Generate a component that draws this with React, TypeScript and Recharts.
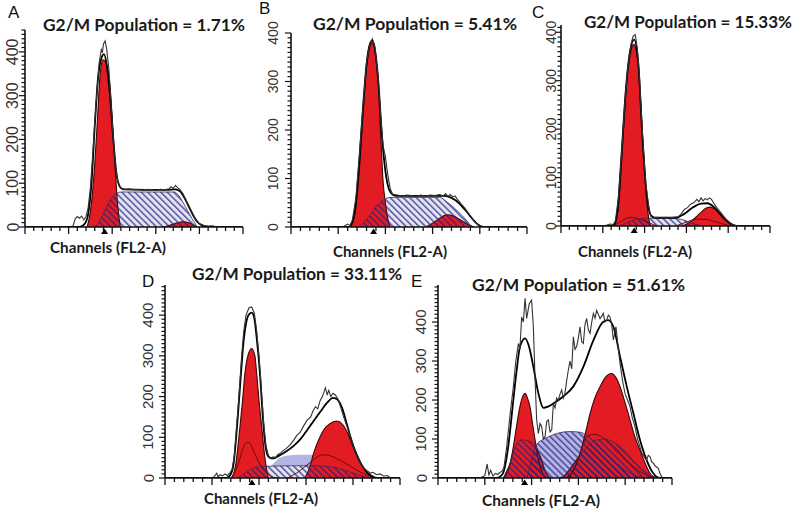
import React from 'react';
import { ComposedChart, Area, Line, XAxis, YAxis, ReferenceDot } from 'recharts';

type Pt = [number, number];

// text
const titles = [
  'G2/M Population = 1.71%',
  'G2/M Population = 5.41%',
  'G2/M Population = 15.33%',
  'G2/M Population = 33.11%',
  'G2/M Population = 51.61%',
];
const letters = ['A', 'B', 'C', 'D', 'E'];
const xLabel = 'Channels (FL2-A)';
const yLabels = [0, 100, 200, 300, 400];
// G1 peak marker (triangle under the axis), in channels
const g1Marker = [73, 70, 70, 74, 74];

// ---- A ----
const rawA: Pt[] = [[0,0],[40,0],[44,2],[46,18],[48,24],[50,20],[52,25],[54,16],[56,24],[58,45],[60,90],[62,160],[64,240],[66,310],[68,375],[70,405],[71,398],[72,418],[73.5,425],[75,405],[77,360],[79,280],[81,200],[83,140],[85,105],[87,92],[89,88],[92,86],[96,87],[100,85],[104,86],[108,84],[112,86],[116,85],[120,84],[124,86],[128,85],[132,87],[134,92],[136,88],[138,95],[140,90],[142,86],[145,76],[148,60],[152,40],[156,20],[160,8],[164,4],[168,2],[172,3],[176,0],[200,0]];
const modelA: Pt[] = [[0,0],[50,0],[55,8],[58,30],[61,100],[64,230],[67,340],[70,385],[72.5,395],[75,370],[78,300],[81,200],[84,120],[87,92],[90,86],[110,85],[130,85],[138,86],[142,82],[146,68],[150,48],[154,28],[158,12],[162,4],[166,0],[200,0]];
const g1A: Pt[] = [[57,0],[60,35],[63,110],[66,225],[69,350],[71.5,382],[74,378],[76,358],[78,322],[80,250],[82.6,140],[85,50],[87.5,0]];
const sA: Pt[] = [[64,0],[68,12],[72,32],[76,52],[80,68],[84,77],[88,80],[100,80],[120,80],[137,80],[141,72],[145,56],[149,38],[153,20],[157,4],[158,0]];
const g2A: Pt[] = [[127,0],[133,4],[139,9],[145,12],[151,9],[155,4],[158,0]];

// ---- B ----
const rawB: Pt[] = [[0,0],[44,0],[46,3],[48,6],[50,3],[52,14],[55,60],[58,150],[61,250],[64,340],[67,380],[69,388],[71,372],[74,305],[76,230],[78,168],[80,145],[82,108],[84,80],[86,68],[90,66],[94,64],[98,66],[102,65],[106,63],[110,66],[114,64],[118,66],[122,65],[126,67],[129,64],[131,69],[133,63],[135,67],[137,62],[139,64],[141,57],[144,48],[147,40],[150,30],[153,20],[156,10],[158,6],[160,3],[164,0],[200,0]];
const modelB: Pt[] = [[0,0],[49,0],[52,10],[55,50],[58,140],[61,245],[64,335],[67,378],[69,384],[71,368],[74,300],[77,190],[80,115],[83,78],[86,67],[90,64],[130,64],[136,60],[142,50],[148,34],[154,16],[158,6],[162,0],[200,0]];
const g1B: Pt[] = [[50,0],[54,25],[58,120],[61,230],[64,330],[67,372],[69,380],[71,365],[74,296],[76,190],[78,95],[80,50],[82,18],[84,0]];
const sB: Pt[] = [[58,0],[63,12],[68,28],[72,42],[76,52],[80,58],[84,61],[100,61],[126,61],[132,52],[138,40],[144,26],[150,10],[153,0]];
const g2B: Pt[] = [[114,0],[120,8],[126,18],[132,25],[138,22],[144,14],[150,5],[155,0]];

// ---- C ----
const rawC: Pt[] = [[0,0],[40,0],[44,2],[47,4],[50,3],[52,10],[55,60],[58,150],[61,255],[64,330],[67,375],[69,392],[71,395],[73,368],[75,310],[78,190],[81,90],[84,40],[86,20],[88,17],[92,18],[96,16],[100,18],[104,17],[108,18],[112,19],[115,25],[118,34],[121,38],[124,45],[127,48],[130,55],[132,50],[134,58],[136,52],[138,57],[140,54],[142,58],[144,55],[146,48],[149,38],[152,30],[155,22],[158,14],[162,6],[165,2],[170,0],[200,0]];
const modelC: Pt[] = [[0,0],[50,0],[54,30],[58,150],[62,280],[66,360],[70,385],[74,335],[78,180],[82,65],[86,22],[90,17],[110,17],[118,25],[126,38],[134,46],[140,47],[146,40],[152,26],[158,12],[164,3],[168,0],[200,0]];
const g1C: Pt[] = [[51,0],[54,25],[56.5,81],[59,170],[61.2,247],[64,320],[66,351],[68,370],[70,375],[72,362],[74,330],[76,260],[78.8,158],[80.5,95],[82,54],[84,15],[86,0]];
const sC: Pt[] = [[56,0],[62,6],[68,12],[76,15],[84,16],[100,16],[112,15],[118,12],[124,7],[130,3],[136,0]];
const g2C: Pt[] = [[116,0],[122,6],[128,16],[134,28],[139,37],[143,39],[147,35],[152,24],[157,12],[161,5],[165,0]];
const cLine1: Pt[] = [[50,0],[56,8],[62,15],[68,18],[74,15],[80,10],[86,5],[92,0]];
const cLine2: Pt[] = [[110,0],[120,8],[130,14],[138,14],[146,10],[154,5],[162,0]];

// ---- D ----
const rawD: Pt[] = [[0,0],[40,0],[42,4],[44,12],[45,3],[47,8],[49,5],[51,10],[53,6],[55,12],[57,20],[59,55],[61,130],[63,205],[65,290],[67,360],[69,400],[71.5,418],[73.8,420],[76,405],[78,362],[80,300],[82,220],[84,135],[86,78],[88,55],[90,48],[92,52],[94,50],[96,58],[98.3,61],[100,66],[103,72],[106,80],[109.6,93],[112,104],[115,112],[118,128],[121,142],[124,150],[126,165],[128,175],[130,170],[132,190],[134,200],[136.5,222],[138,205],[139.4,215],[141,200],[143,208],[145,204],[147,195],[149.4,175],[152,150],[155,126],[158,100],[160,80],[163.5,52],[166,38],[169,25],[172,18],[174.9,12],[177,14],[180,8],[183,10],[186,5],[189,6],[192,0],[200,0]];
const modelD: Pt[] = [[0,0],[52,0],[55,5],[58,28],[60,80],[62.4,167],[64.5,250],[66.7,330],[69,380],[71,400],[73.8,406],[76,392],[78,345],[81,249],[83,160],[85.1,88],[87,58],[89,50],[92,48],[97,55],[103,65],[110,80],[116,98],[121,118],[126.5,140],[132,162],[138,185],[143,197],[147,192],[151,170],[155,130],[159,90],[163,58],[167,34],[171,17],[175,7],[180,0],[200,0]];
const g1D: Pt[] = [[57,0],[60,30],[63.8,126],[66,190],[68,257],[71,305],[73.8,318],[76.5,300],[78,257],[80,190],[82.3,126],[84,75],[86,30],[88,0]];
const sD: Pt[] = [[84,0],[88,20],[92,35],[98,50],[105,55],[115,57],[125,57],[132,52],[138,42],[145,28],[152,14],[160,4],[165,0]];
const hD: Pt[] = [[62,0],[66,8],[70,16],[75,24],[80,28],[90,29],[110,30],[125,30],[140,28],[152,20],[162,10],[170,3],[174,0]];
const g2D: Pt[] = [[119,0],[123,25],[126.5,61],[131,95],[135,118],[140,133],[146,140],[151,132],[155,113],[158,93],[162,65],[166.5,37],[171,16],[175,5],[178,0]];
const dLine1: Pt[] = [[56,0],[60,18],[64,50],[67,78],[70,88],[73,82],[76,62],[80,38],[84,20],[88,8],[92,2],[96,0]];
const dLine2: Pt[] = [[104,0],[112,12],[120,30],[128,48],[134,57],[140,55],[148,45],[156,32],[164,18],[172,7],[180,0]];

// ---- E ----
const rawE: Pt[] = [[0,0],[36,0],[38,3],[40,6],[42,36],[43.5,8],[45,20],[47,5],[49,12],[51,9],[53,14],[55,18],[56.5,30],[58.7,80],[61.5,160],[64.4,234],[66.5,300],[68.7,345],[70,330],[71.5,413],[73,400],[74.4,461],[75.8,409],[77,430],[78,447],[80,456],[81.5,388],[82.9,260],[84.3,150],[85.8,114],[87.2,140],[88.6,132],[90,100],[91.5,106],[92.9,145],[94.3,149],[95.7,118],[97.2,123],[98.6,191],[100,180],[101.4,205],[102.8,200],[104.3,215],[105.7,226],[107.1,205],[108.5,217],[110,250],[111.4,277],[112.8,300],[114.3,280],[115.7,362],[117.1,330],[118.5,337],[120,360],[121.4,388],[122.8,350],[124.2,345],[125.7,395],[127.1,409],[128.5,380],[130,371],[131.4,400],[132.8,422],[134.2,410],[135.6,430],[137,420],[138.5,409],[140,415],[141.3,422],[142.7,400],[144.2,405],[145.6,418],[147,413],[148.4,395],[149.9,354],[151,370],[152.1,388],[153.8,340],[155.6,294],[157.7,250],[159.8,217],[162,200],[164.1,183],[166,155],[168.4,132],[170.5,100],[172.6,80],[174,65],[175.5,58],[177,50],[178.3,46],[179.7,58],[181.2,55],[182.6,42],[184,38],[186,30],[188.3,25],[189.7,12],[191.1,3],[193,0],[200,0]];
const modelE: Pt[] = [[0,0],[50,0],[53,3],[56,15],[60,80],[64.4,200],[67,270],[70.1,337],[74.4,358],[78,335],[81.5,285],[85.8,217],[90,180],[94,183],[98.6,191],[107,209],[115.7,235],[124.2,285],[132.8,353],[141.3,401],[145.6,405],[149.9,388],[155.6,311],[161.3,235],[167,166],[172.6,98],[178.3,46],[184,12],[189.7,0],[200,0]];
const g1E: Pt[] = [[57,0],[61,30],[64.4,80],[67,130],[70,183],[72.5,210],[74.4,217],[76.5,205],[78.6,183],[81,135],[83,97],[85,60],[87.2,29],[89.5,10],[91.5,0]];
const sE: Pt[] = [[76,0],[80,45],[84,85],[90,99],[96,108],[104,116],[112,119],[120,118],[126,112],[132,98],[140,75],[150,45],[160,20],[170,5],[176,0]];
const aggLE: Pt[] = [[56,0],[62,40],[67,85],[71.5,98],[76,96],[80,92],[83,85],[86,65],[88.6,46],[91,22],[94,5],[96,0]];
const aggRE: Pt[] = [[104,0],[107,3],[112,20],[118,45],[124,68],[130,88],[136,98],[142,100],[150,92],[158,74],[166,48],[174,24],[182,7],[187,0]];
const g2E: Pt[] = [[110,0],[116,20],[121.4,63],[126,115],[130,166],[134,205],[138.5,234],[143,258],[148.4,268],[152,258],[155.6,234],[160,192],[164.1,149],[168,108],[172.6,72],[177,38],[181.2,12],[184,0]];
const eLine2: Pt[] = [[112,0],[118,35],[124,85],[128,108],[134,112],[142,102],[150,82],[161,46],[172,18],[184,0]];

const RED = '#e31b22';
const RED_EDGE = '#3b0606';
const LAV_LIGHT = '#e4e4f5';
const LAV = '#b4b4e6';
const STRIPE = '#22227a';

interface PanelData {
  raw: Pt[]; model: Pt[]; g1: Pt[]; g2: Pt[]; s: Pt[];
  sFill: string; stripeS: boolean;
  hatch?: Pt[]; aggs?: Pt[][]; thin?: Pt[][];
}

const panels: PanelData[] = [
  { raw: rawA, model: modelA, g1: g1A, g2: g2A, s: sA, sFill: LAV_LIGHT, stripeS: true },
  { raw: rawB, model: modelB, g1: g1B, g2: g2B, s: sB, sFill: LAV_LIGHT, stripeS: true },
  { raw: rawC, model: modelC, g1: g1C, g2: g2C, s: sC, sFill: LAV_LIGHT, stripeS: true, thin: [cLine1, cLine2] },
  { raw: rawD, model: modelD, g1: g1D, g2: g2D, s: sD, sFill: LAV, stripeS: false, hatch: hD, thin: [dLine1, dLine2] },
  { raw: rawE, model: modelE, g1: g1E, g2: g2E, s: sE, sFill: LAV, stripeS: true, aggs: [aggLE, aggRE], thin: [eLine2] },
];

// plot boxes in page pixels
const layout = [
  { left: 25, right: 243, top: 30, bottom: 227, yMax: 450, fs: 16, gap: 12, title: { x: 43, y: 31, w: 202 }, letter: { x: 8, y: 18 }, xl: { x: 50, y: 253, w: 116 } },
  { left: 291, right: 527, top: 33, bottom: 227, yMax: 400, fs: 14, gap: 18, title: { x: 313, y: 30, w: 204 }, letter: { x: 259, y: 14 }, xl: { x: 333, y: 257, w: 114 } },
  { left: 561, right: 770, top: 25, bottom: 226, yMax: 415, fs: 14, gap: 10, title: { x: 584, y: 28, w: 208 }, letter: { x: 532, y: 18 }, xl: { x: 578, y: 257, w: 114 } },
  { left: 165, right: 400, top: 285, bottom: 478, yMax: 474, fs: 15, gap: 17, title: { x: 192, y: 280, w: 210 }, letter: { x: 142, y: 287 }, xl: { x: 204, y: 504, w: 114 } },
  { left: 438, right: 672, top: 285, bottom: 478, yMax: 495, fs: 15, gap: 17, title: { x: 472, y: 291, w: 213 }, letter: { x: 411, y: 287 }, xl: { x: 482, y: 506, w: 118 } },
];

const TOP_PAD = 22;
const xTicks = Array.from({ length: 26 }, (_, i) => i * 8);

const pts = (a: Pt[]) => a.map(([x, y]) => ({ x, y }));

const XTick = (props: any) => {
  const { x, y, payload } = props;
  const major = payload.value % 40 === 0;
  return <line x1={x} x2={x} y1={y} y2={y + (major ? 7 : 4)} stroke="#111" strokeWidth={1.3} />;
};

const YTick = (props: any) => {
  const { x, y, payload, fs, gap } = props;
  const v = payload.value;
  const major = v % 100 === 0;
  const lx = x - gap;
  return (
    <g>
      <line x1={x} x2={x - (major ? 6 : 3.5)} y1={y} y2={y} stroke="#111" strokeWidth={1.2} />
      {yLabels.includes(v) && (
        <text x={lx} y={y} transform={`rotate(-90 ${lx} ${y})`} textAnchor="middle" dominantBaseline="central"
          fontSize={fs} fill="#333" fontFamily="'Liberation Sans', Arial, sans-serif">{v}</text>
      )}
    </g>
  );
};

function Panel({ i }: { i: number }) {
  const d = panels[i];
  const L = layout[i];
  const yTicks = Array.from({ length: Math.floor(L.yMax / 10) + 1 }, (_, k) => k * 10);
  const w = L.right - L.left + 40;
  const h = L.bottom - L.top + TOP_PAD + 15;
  const sid = `stripe${i}`;
  const redArea = (a: Pt[], k: string) => (
    <Area key={k} data={pts(a)} dataKey="y" type="monotone" fill={RED} fillOpacity={1}
      stroke={RED_EDGE} strokeWidth={1.1} isAnimationActive={false} />
  );
  const stripeArea = (a: Pt[], k: string) => (
    <Area key={k} data={pts(a)} dataKey="y" type="monotone" fill={`url(#${sid})`} fillOpacity={0.75}
      stroke="#3a2a5a" strokeWidth={0.8} isAnimationActive={false} />
  );
  return (
    <div style={{ position: 'absolute', left: L.left - 30, top: L.top - TOP_PAD }}>
      <ComposedChart width={w} height={h} margin={{ top: TOP_PAD, right: 10, bottom: 0, left: 0 }}>
        <defs>
          <pattern id={sid} patternUnits="userSpaceOnUse" width={4.6} height={4.6} patternTransform="rotate(-45)">
            <rect x={0} y={0} width={1.5} height={4.6} fill={STRIPE} />
          </pattern>
        </defs>
        <XAxis type="number" dataKey="x" domain={[0, 200]} ticks={xTicks} interval={0}
          tick={(p: any) => <XTick {...p} />} tickLine={false} tickSize={0} tickMargin={0}
          axisLine={{ stroke: '#111', strokeWidth: 1.6 }} height={15} allowDataOverflow />
        <YAxis type="number" domain={[0, L.yMax]} ticks={yTicks} interval={0}
          tick={(p: any) => <YTick {...p} fs={L.fs} gap={L.gap} />} tickLine={false} tickSize={0} tickMargin={0}
          axisLine={{ stroke: '#111', strokeWidth: 1.6 }} width={30} allowDataOverflow />

        <Area data={pts(d.s)} dataKey="y" type="monotone" fill={d.sFill} fillOpacity={1} stroke="none" isAnimationActive={false} />
        {d.hatch && (
          <Area data={pts(d.hatch)} dataKey="y" type="monotone" fill={LAV_LIGHT} fillOpacity={1} stroke="none" isAnimationActive={false} />
        )}
        {(d.aggs || []).map((a, k) => redArea(a, `agg${k}`))}
        {redArea(d.g1, 'g1')}
        {redArea(d.g2, 'g2')}
        {d.stripeS && stripeArea(d.s, 'sStripe')}
        {d.hatch && stripeArea(d.hatch, 'hStripe')}
        {(d.aggs || []).map((a, k) => stripeArea(a, `aggS${k}`))}

        {(d.thin || []).map((a, k) => (
          <Line key={`t${k}`} data={pts(a)} dataKey="y" type="monotone" stroke="#6a0d12" strokeWidth={1}
            dot={false} isAnimationActive={false} />
        ))}
        <Line data={pts(d.model)} dataKey="y" type="monotone" stroke="#000" strokeWidth={1.8} dot={false} isAnimationActive={false} />
        <Line data={pts(d.raw)} dataKey="y" type="linear" stroke="#333" strokeWidth={1.1} dot={false} isAnimationActive={false} />

        <ReferenceDot x={g1Marker[i]} y={0} r={3} ifOverflow="visible"
          shape={(p: any) => <path d={`M${p.cx - 3.5},${p.cy + 7} L${p.cx + 3.5},${p.cy + 7} L${p.cx},${p.cy + 1.5} Z`} fill="#000" />} />
      </ComposedChart>
    </div>
  );
}

export default function App() {
  return (
    <div style={{ position: 'absolute', left: 0, top: 0, width: 800, height: 513, background: '#fff', overflow: 'hidden' }}>
      {panels.map((_, i) => <Panel key={i} i={i} />)}
      <svg width={800} height={513} style={{ position: 'absolute', left: 0, top: 0, pointerEvents: 'none' }}>
        {layout.map((L, i) => (
          <g key={i}>
            <text x={L.letter.x} y={L.letter.y} fontSize={17} fontFamily="'Liberation Sans', Arial, sans-serif" fill="#111">{letters[i]}</text>
            <text x={L.title.x} y={L.title.y} fontSize={17} fontWeight={700} fontFamily="Lato, 'Open Sans', sans-serif"
              fill="#1a1a1a" textLength={L.title.w} lengthAdjust="spacingAndGlyphs">{titles[i]}</text>
            <text x={L.xl.x} y={L.xl.y} fontSize={15} fontWeight={700} fontFamily="Lato, 'Open Sans', sans-serif"
              fill="#1a1a1a" textLength={L.xl.w} lengthAdjust="spacingAndGlyphs">{xLabel}</text>
          </g>
        ))}
      </svg>
    </div>
  );
}
